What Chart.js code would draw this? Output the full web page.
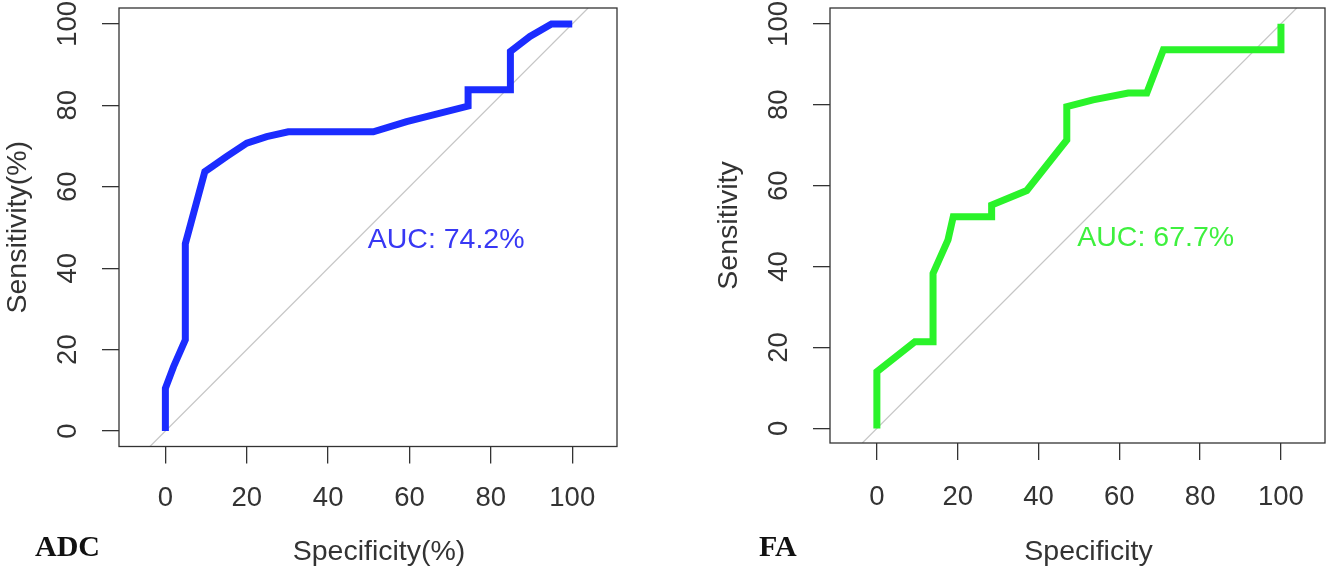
<!DOCTYPE html>
<html>
<head>
<meta charset="utf-8">
<script src="https://cdn.jsdelivr.net/npm/chart.js@4.4.1/dist/chart.umd.min.js"></script>
<style>
    html, body { margin: 0; padding: 0; background: #fff; }
    #wrap { position: relative; width: 1329px; height: 570px; overflow: hidden; }
    canvas { position: absolute; top: 0; }
</style>
</head>
<body>
<div id="wrap">
    <canvas id="adcChart" width="665" height="570" style="left:0"></canvas>
    <canvas id="faChart" width="664" height="570" style="left:665px"></canvas>
</div>
<script>
// tick labels (both axes, both panels)
var axisTicks = [0, 20, 40, 60, 80, 100];

// ADC roc curve
var adcSpecificity = [0, 0, 2, 4.9, 4.9, 9.7, 11.4, 15, 20, 24.9, 30.2, 51.1, 59.3, 74.4, 74.4, 84.8, 84.8, 89.6, 94.9, 100];
var adcSensitivity = [0, 10.5, 15.8, 22.4, 46, 63.7, 64.9, 67.4, 70.7, 72.3, 73.5, 73.5, 76, 79.8, 83.8, 83.8, 93.2, 96.9, 100, 100];

// FA roc curve
var faSpecificity = [0, 0, 9.4, 13.9, 13.9, 17.6, 18.9, 28.4, 28.4, 37.1, 47, 47, 53.5, 62.2, 66.8, 70.9, 100, 100];
var faSensitivity = [0, 14, 21.4, 21.4, 38.3, 46.6, 52.3, 52.3, 55.2, 58.8, 71.3, 79.5, 81.2, 82.9, 82.9, 93.6, 93.6, 100];

var aucText = ['AUC: 74.2%', 'AUC: 67.7%'];

var SANS = '"Liberation Sans", Arial, sans-serif';
var INK = '#333';

// box, axis titles, AUC text and the panel tag
var rocDecor = {
    id: 'rocDecor',
    afterDraw: function (chart, args, opts) {
        var ctx = chart.ctx;
        var area = chart.chartArea;
        var xs = chart.scales.x, ys = chart.scales.y;
        ctx.save();
        ctx.strokeStyle = INK;
        ctx.lineWidth = 1.3;
        ctx.strokeRect(area.left, area.top, area.right - area.left, area.bottom - area.top);

        ctx.fillStyle = INK;
        ctx.font = '28.5px ' + SANS;
        ctx.textAlign = 'center';
        ctx.textBaseline = 'alphabetic';
        ctx.fillText(opts.xTitle, (area.left + area.right) / 2 + 11, 560);

        ctx.save();
        ctx.translate(area.left - 93, (area.top + area.bottom) / 2);
        ctx.rotate(-Math.PI / 2);
        ctx.fillText(opts.yTitle, 0, 0);
        ctx.restore();

        ctx.fillStyle = opts.aucColor;
        ctx.textBaseline = 'middle';
        ctx.fillText(opts.auc, xs.getPixelForValue(opts.aucAt[0]), ys.getPixelForValue(opts.aucAt[1]));

        ctx.fillStyle = '#111';
        ctx.font = 'bold 30px "Liberation Serif", "Times New Roman", serif';
        ctx.textAlign = 'left';
        ctx.textBaseline = 'alphabetic';
        ctx.fillText(opts.tag, opts.tagX, 556);
        ctx.restore();
    }
};

function toPoints(xs, ys) {
    return xs.map(function (x, i) { return {x: x, y: ys[i]}; });
}

// keep the plot box where the axis sizes put it (no label overhang padding)
function fixedSize(prop, size) {
    return function (s) {
        s[prop] = size;
        s.paddingTop = 0; s.paddingBottom = 0;
        s.paddingLeft = 0; s.paddingRight = 0;
    };
}

function gerarPainel(id, spec, sens, cor, p) {
    var ctx = document.getElementById(id).getContext('2d');
    return new Chart(ctx, {
        type: 'line',
        data: {
            datasets: [{
                data: toPoints(spec, sens),
                borderColor: cor,
                borderWidth: 7,
                borderJoinStyle: 'miter',
                borderCapStyle: 'butt',
                pointRadius: 0,
                tension: 0,
                order: 1
            }, {
                // identity line
                data: [{x: p.yMin, y: p.yMin}, {x: p.yMax, y: p.yMax}],
                borderColor: '#c6c6c6',
                borderWidth: 1.2,
                pointRadius: 0,
                order: 2
            }]
        },
        options: {
            responsive: false,
            animation: false,
            layout: {padding: {top: 8, right: p.padRight, left: 0, bottom: 0}},
            plugins: {
                legend: {display: false},
                tooltip: {enabled: false},
                rocDecor: {
                    xTitle: p.xTitle, yTitle: p.yTitle, auc: p.auc, aucColor: p.aucColor,
                    aucAt: [69, 47], tag: p.tag, tagX: p.tagX
                }
            },
            scales: {
                x: {
                    type: 'linear',
                    min: p.xMin, max: p.xMax,
                    afterBuildTicks: function (s) { s.ticks = axisTicks.map(function (v) { return {value: v}; }); },
                    afterFit: fixedSize('height', p.xAxisH),
                    border: {display: false},
                    grid: {drawOnChartArea: false, drawTicks: true, tickLength: 17, color: INK, lineWidth: 1.3},
                    ticks: {autoSkip: false, maxRotation: 0, padding: p.xTickPad, color: INK, font: {family: SANS, size: 27.5}}
                },
                y: {
                    type: 'linear',
                    min: p.yMin, max: p.yMax,
                    afterBuildTicks: function (s) { s.ticks = axisTicks.map(function (v) { return {value: v}; }); },
                    afterFit: fixedSize('width', p.yAxisW),
                    border: {display: false},
                    grid: {drawOnChartArea: false, drawTicks: true, tickLength: 17, color: INK, lineWidth: 1.3},
                    ticks: {autoSkip: false, minRotation: 90, maxRotation: 90, crossAlign: 'center', padding: 11,
                        color: INK, font: {family: SANS, size: 27.5}}
                }
            }
        },
        plugins: [rocDecor]
    });
}

gerarPainel('adcChart', adcSpecificity, adcSensitivity, '#1b2cff', {
    xMin: -11.4, xMax: 111, yMin: -3.8, yMax: 103.9,
    yAxisW: 119, xAxisH: 123.5, padRight: 48, xTickPad: 18,
    xTitle: 'Specificity(%)', yTitle: 'Sensitivity(%)',
    auc: aucText[0], aucColor: '#3838f4', tag: 'ADC', tagX: 35
});

gerarPainel('faChart', faSpecificity, faSensitivity, '#2af32a', {
    xMin: -11.6, xMax: 110.9, yMin: -3.6, yMax: 103.9,
    yAxisW: 165, xAxisH: 127, padRight: 4, xTickPad: 21,
    xTitle: 'Specificity', yTitle: 'Sensitivity',
    auc: aucText[1], aucColor: '#3ef03e', tag: 'FA', tagX: 94
});
</script>
</body>
</html>
